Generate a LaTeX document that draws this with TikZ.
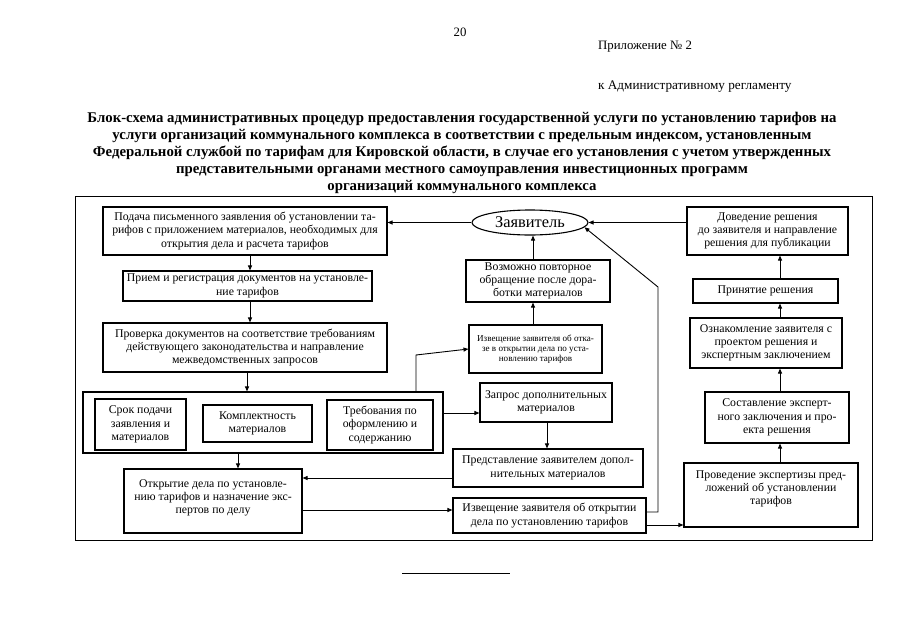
\documentclass[tikz,border=0pt]{standalone}
\usepackage{fontspec}
\setmainfont{Liberation Serif}
\usetikzlibrary{arrows.meta,calc,shapes.geometric}
\begin{document}
\begin{tikzpicture}[x=1pt,y=-1pt,
  box/.style={draw, line width=1.1pt, align=center, inner sep=1pt, font=\fontsize{11.8}{13.3}\selectfont},
  small/.style={font=\fontsize{9.1}{10}\selectfont},
  plain/.style={align=center, inner sep=0pt, font=\fontsize{11.8}{13.3}\selectfont},
  arr/.style={-{Triangle[length=5pt,width=4pt]}, line width=0.9pt},
  ln/.style={line width=0.9pt}]
\useasboundingbox (0,0) rectangle (905,640);
% header
\node[plain, font=\fontsize{12.8}{14}\selectfont] (pg) at (460,32) {20};
\node[plain, anchor=west, font=\fontsize{12.8}{14}\selectfont] (app) at (598,47) {Приложение № 2};
\node[plain, anchor=west, font=\fontsize{13.2}{14}\selectfont] (reg) at (598,87) {к Административному регламенту};
\node[plain, font=\bfseries\fontsize{14.8}{17}\selectfont] (title) at (462,153) {Блок-схема административных процедур предоставления государственной услуги по установлению тарифов на\\
услуги организаций коммунального комплекса в соответствии с предельным индексом, установленным\\
Федеральной службой по тарифам для Кировской области, в случае его установления с учетом утвержденных\\
представительными органами местного самоуправления инвестиционных программ\\
организаций коммунального комплекса};
% outer frame
\node[draw, line width=1pt, minimum width=797pt, minimum height=344pt, inner sep=0pt] (outer) at (473.5,368) {};
% left column
\node[box, minimum width=284pt, minimum height=48pt] (a) at (245,231) {Подача письменного заявления об установлении та-\\рифов с приложением материалов, необходимых для\\открытия дела и расчета тарифов};
\node[box, minimum width=249pt, minimum height=30pt] (b) at (247.5,286) {Прием и регистрация документов на установле-\\ние тарифов};
\node[box, minimum width=284pt, minimum height=49pt] (c) at (245,347.5) {Проверка документов на соответствие требованиям\\действующего законодательства и направление\\межведомственных запросов};
\node[draw, line width=1.1pt, minimum width=360pt, minimum height=61pt, inner sep=0pt] (grp) at (263,422.5) {};
\node[box, minimum width=91pt, minimum height=51pt] (s1) at (140.5,424.5) {Срок подачи\\заявления и\\материалов};
\node[box, minimum width=109pt, minimum height=37pt] (s2) at (257.5,423.5) {Комплектность\\материалов};
\node[box, minimum width=106pt, minimum height=50pt] (s3) at (380,425) {Требования по\\оформлению и\\содержанию};
\node[box, minimum width=178pt, minimum height=64pt] (d) at (213,501) {};
\node[plain] (dt) at (213,498) {Открытие дела по установле-\\нию тарифов и назначение экс-\\пертов по делу};
% middle column
\node[draw, ellipse, line width=1.1pt, minimum width=116pt, minimum height=25pt, inner sep=0pt, font=\fontsize{16.4}{18}\selectfont] (zav) at (530,222.5) {Заявитель};
\node[box, minimum width=144pt, minimum height=42pt] (voz) at (538,281) {Возможно повторное\\обращение после дора-\\ботки материалов};
\node[box, small, minimum width=133pt, minimum height=48pt] (izv1) at (535.5,349) {Извещение заявителя об отка-\\зе в открытии дела по уста-\\новлению тарифов};
\node[box, minimum width=132pt, minimum height=39pt] (zap) at (546,402.5) {Запрос дополнительных\\материалов};
\node[box, minimum width=190pt, minimum height=38pt] (pred) at (548,468) {Представление заявителем допол-\\нительных материалов};
\node[box, minimum width=193pt, minimum height=35pt] (izv2) at (549.5,515.5) {Извещение заявителя об открытии\\дела по установлению тарифов};
% right column
\node[box, minimum width=161pt, minimum height=48pt] (dov) at (767.5,231) {Доведение решения\\до заявителя и направление\\решения для публикации};
\node[box, minimum width=145pt, minimum height=24pt] (prin) at (765.5,291) {Принятие решения};
\node[box, minimum width=152pt, minimum height=50pt] (ozn) at (766,343) {Ознакомление заявителя с\\проектом решения и\\экспертным заключением};
\node[box, minimum width=144pt, minimum height=51pt] (sost) at (777,417.5) {Составление эксперт-\\ного заключения и про-\\екта решения};
\node[box, minimum width=174pt, minimum height=64pt] (prov) at (771,495) {};
\node[plain] (provt) at (771,489) {Проведение экспертизы пред-\\ложений об установлении\\тарифов};
% helper coordinates
\coordinate (lx1) at (250,0);
\coordinate (lx2) at (247,0);
\coordinate (lx3) at (238,0);
\coordinate (mx) at (533,0);
\coordinate (mx2) at (547,0);
\coordinate (rx) at (780,0);
\coordinate (k1) at (416,355);
\coordinate (k2) at (658,512);
\coordinate (k3) at (658,287);
\coordinate (y413) at (0,413);
\coordinate (y478) at (0,478);
\coordinate (y510) at (0,510);
\coordinate (y512) at (0,512);
\coordinate (y525) at (0,525);
% connectors left
\draw[arr] (a.south -| lx1) -- (b.north -| lx1);
\draw[arr] (b.south -| lx1) -- (c.north -| lx1);
\draw[arr] (c.south -| lx2) -- (grp.north -| lx2);
\draw[arr] (grp.south -| lx3) -- (d.north -| lx3);
% middle
\draw[arr] (zav.west) -- (zav.west -| a.east);
\draw[arr] (dov.west |- zav.east) -- (zav.east);
\draw[arr] (voz.north -| mx) -- (zav.south -| mx);
\draw[arr] (izv1.north -| mx) -- (voz.south -| mx);
\draw[arr] (grp.north -| k1) -- (k1) -- (izv1.west);
\draw[arr] (grp.east |- y413) -- (zap.west |- y413);
\draw[arr] (zap.south -| mx2) -- (pred.north -| mx2);
\draw[arr] (pred.west |- y478) -- (d.east |- y478);
\draw[arr] (d.east |- y510) -- (izv2.west |- y510);
\draw[arr] (izv2.east |- y512) -- (k2) -- (k3) -- (zav.-5);
\draw[arr] (izv2.east |- y525) -- (prov.west |- y525);
% right
\draw[arr] (prov.north -| rx) -- (sost.south -| rx);
\draw[arr] (sost.north -| rx) -- (ozn.south -| rx);
\draw[arr] (ozn.north -| rx) -- (prin.south -| rx);
\draw[arr] (prin.north -| rx) -- (dov.south -| rx);
% footer line
\coordinate (f1) at (402,573);
\coordinate (f2) at (510,573);
\draw[ln] (f1) -- (f2);
\end{tikzpicture}
\end{document}
